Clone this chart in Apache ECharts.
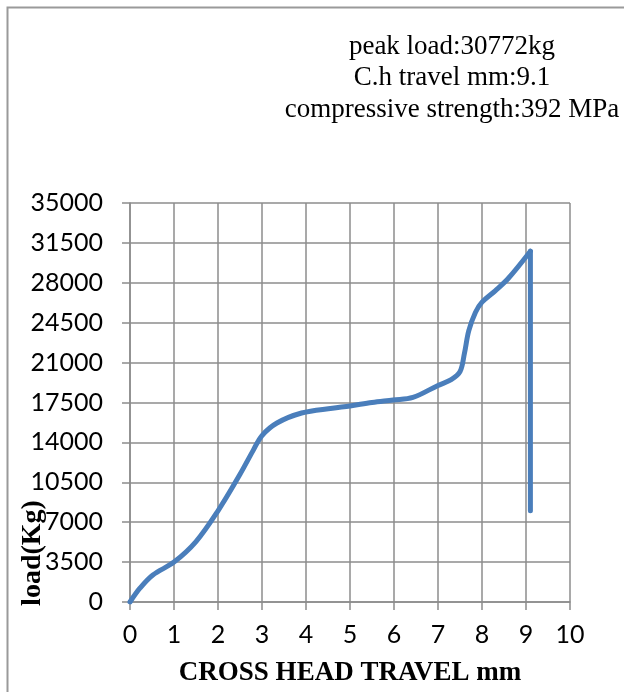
<!DOCTYPE html>
<html>
<head>
<meta charset="utf-8">
<script src="https://cdn.jsdelivr.net/npm/echarts@6/dist/echarts.min.js"></script>
<style>
  html, body { margin: 0; padding: 0; background: #fff; }
  #chart { width: 624px; height: 692px; }
</style>
</head>
<body>
<div id="chart"></div>
<script>
// cross head travel (mm) and load (kg)
const travel = [0, 0.23, 0.52, 1.0, 1.5, 2.0, 2.5, 2.8, 3.0, 3.34, 3.9, 4.6, 5.0, 5.5, 5.98, 6.43, 7.0, 7.3, 7.5, 7.6, 7.7, 7.85, 8.0, 8.3, 8.6, 9.1];
const load   = [0, 1230, 2370, 3500, 5300, 8000, 11200, 13300, 14600, 15700, 16580, 17000, 17200, 17500, 17720, 17950, 19000, 19500, 20200, 21800, 23800, 25400, 26300, 27300, 28400, 30772];
// failure drop after peak
const dropTravel = [9.1, 9.1];
const dropLoad   = [30772, 8000];
const yTicks = { min: 0, max: 35000, step: 3500 };
const xTicks = { min: 0, max: 10, step: 1 };
const infoLines = ['peak load:30772kg', 'C.h travel mm:9.1', 'compressive strength:392 MPa'];

const gridColor = '#8c8c8c';
const lineColor = '#4a7ebb';

let chart = echarts.init(document.getElementById('chart'));

chart.setOption({
  animation: false,
  backgroundColor: '#fff',
  graphic: [
    {
      type: 'polyline',
      shape: { points: [[7.5, 692], [7.5, 7.5], [624, 7.5]] },
      style: { stroke: '#9a9a9a', lineWidth: 2, fill: null }
    },
    {
      type: 'text',
      x: 452, y: 78,
      style: {
        text: infoLines.join('\n'),
        font: '27px "Liberation Serif"',
        fill: '#000',
        align: 'center',
        verticalAlign: 'middle',
        lineHeight: 31.5
      }
    },
    {
      type: 'text',
      x: 33, y: 553,
      rotation: Math.PI / 2,
      style: {
        text: 'load(Kg)',
        font: 'bold 28px "Liberation Serif"',
        fill: '#000',
        align: 'center',
        verticalAlign: 'middle'
      }
    }
  ],
  grid: { left: 130, top: 203, right: 54, bottom: 90 },
  xAxis: {
    type: 'value',
    min: xTicks.min, max: xTicks.max, interval: xTicks.step,
    name: 'CROSS HEAD TRAVEL mm',
    nameLocation: 'middle',
    nameGap: 58,
    nameTextStyle: { fontFamily: 'Liberation Serif', fontWeight: 'bold', fontSize: 27, color: '#000' },
    axisLine: { show: true, lineStyle: { color: gridColor, width: 1.5 } },
    axisTick: { show: true, inside: false, length: 8, lineStyle: { color: gridColor, width: 1.5 } },
    axisLabel: { margin: 20, fontFamily: 'Lato', fontSize: 25, color: '#000' },
    splitLine: { show: true, lineStyle: { color: gridColor, width: 1.5 } }
  },
  yAxis: {
    type: 'value',
    min: yTicks.min, max: yTicks.max, interval: yTicks.step,
    axisLine: { show: true, lineStyle: { color: gridColor, width: 1.5 } },
    axisTick: { show: true, inside: false, length: 8, lineStyle: { color: gridColor, width: 1.5 } },
    axisLabel: { margin: 27, fontFamily: 'Lato', fontSize: 25, color: '#000', formatter: v => String(v) },
    splitLine: { show: true, lineStyle: { color: gridColor, width: 1.5 } }
  },
  series: [
    {
      type: 'line',
      data: travel.map((x, i) => [x, load[i]]),
      smooth: 0.35,
      showSymbol: false,
      lineStyle: { color: lineColor, width: 5, cap: 'round', join: 'round' }
    },
    {
      type: 'line',
      data: dropTravel.map((x, i) => [x, dropLoad[i]]),
      showSymbol: false,
      lineStyle: { color: lineColor, width: 5, cap: 'round', join: 'round' }
    }
  ]
});
</script>
</body>
</html>
